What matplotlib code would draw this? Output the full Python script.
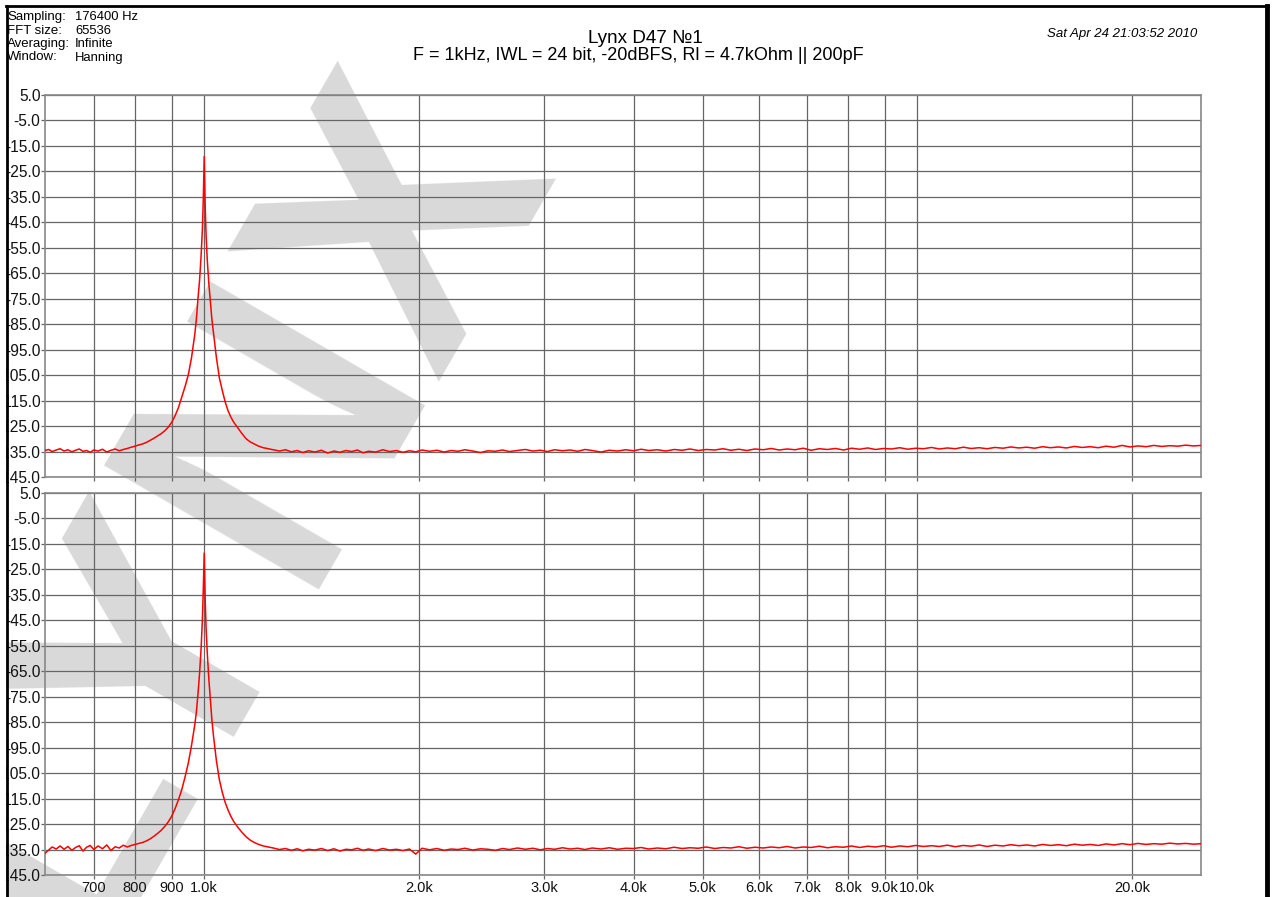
import matplotlib
matplotlib.use("Agg")
import matplotlib.pyplot as plt
from matplotlib.lines import Line2D
from matplotlib.patches import Rectangle
from matplotlib.ticker import NullLocator

plt.rcParams["font.family"] = ["Liberation Sans", "DejaVu Sans"]

# ---- data ----
freq_hz = [
    598, 605, 612, 620, 628, 636, 644, 652, 660, 668,
    676, 684, 692, 700, 710, 720, 730, 740, 750, 760,
    770, 780, 790, 800, 810, 820, 830, 840, 850, 860,
    870, 880, 890, 900, 910, 920, 930, 940, 950, 960,
    970, 975, 980, 985, 990, 994, 997, 1000, 1003, 1006,
    1010, 1015, 1020, 1025, 1030, 1040, 1050, 1060, 1070, 1080,
    1090, 1100, 1115, 1130, 1145, 1160, 1175, 1190, 1210, 1230,
    1250, 1275, 1300, 1325, 1350, 1375, 1400, 1430, 1460, 1490,
    1520, 1550, 1580, 1610, 1640, 1670, 1700, 1740, 1780, 1820,
    1860, 1900, 1940, 1980, 2020, 2070, 2120, 2170, 2220, 2270,
    2320, 2380, 2440, 2500, 2560, 2620, 2680, 2750, 2820, 2890,
    2960, 3030, 3100, 3180, 3260, 3340, 3420, 3500, 3600, 3700,
    3800, 3900, 4000, 4100, 4200, 4320, 4440, 4560, 4680, 4800,
    4930, 5060, 5200, 5340, 5480, 5620, 5770, 5920, 6080, 6240,
    6400, 6570, 6740, 6920, 7100, 7290, 7480, 7680, 7880, 8090,
    8300, 8520, 8740, 8970, 9200, 9450, 9700, 9950, 10200, 10470,
    10740, 11020, 11310, 11600, 11900, 12210, 12530, 12850, 13190, 13530,
    13880, 14240, 14610, 14990, 15380, 15780, 16190, 16610, 17040, 17480,
    17940, 18400, 18880, 19370, 19880, 20400, 20930, 21470, 22030, 22600,
    23190, 23790, 24410, 25000,
]

level_top_db = [
    -134.6, -134.2, -135.0, -134.4, -133.9, -134.8, -134.3, -135.1, -134.5, -134.0,
    -134.9, -134.6, -135.3, -134.4, -134.8, -134.1, -135.2, -134.5, -134.0, -134.7,
    -134.2, -133.8, -133.3, -132.9, -132.4, -132.0, -131.4, -130.6, -129.8, -128.9,
    -128.0, -126.9, -125.5, -123.6, -121.0, -117.8, -113.6, -109.5, -104.8, -98.0,
    -89.0, -83.0, -75.0, -68.0, -58.0, -48.0, -36.0, -19.2, -38.0, -50.0,
    -60.0, -69.0, -76.0, -83.0, -88.0, -98.0, -106.0, -111.0, -115.5, -119.0,
    -121.5, -123.5, -125.8, -128.0, -130.0, -131.2, -132.0, -132.8, -133.5, -133.9,
    -134.3, -134.8, -134.3, -135.1, -134.6, -135.4, -134.7, -135.2, -134.5, -135.6,
    -134.8, -135.3, -134.6, -135.0, -134.4, -135.5, -134.9, -135.2, -134.3, -135.0,
    -134.6, -135.3, -134.7, -135.1, -134.4, -134.9, -134.5, -135.2, -134.6, -134.9,
    -134.3, -134.8, -135.4, -134.7, -134.9, -134.4, -135.0, -134.6, -134.2, -134.8,
    -134.5, -135.0, -134.3, -134.7, -134.4, -134.9, -134.2, -134.6, -135.2, -134.5,
    -134.8, -134.3, -134.7, -134.1, -134.6, -134.3, -134.8, -134.2, -134.5, -134.0,
    -134.6, -134.2, -134.4, -133.9, -134.5, -134.1, -134.6, -134.0, -134.3, -133.8,
    -134.4, -134.0, -134.3, -133.7, -134.5, -133.9, -134.2, -133.8, -134.4, -133.7,
    -134.1, -133.6, -134.2, -133.8, -134.0, -133.5, -134.1, -133.7, -133.9, -133.4,
    -134.0, -133.6, -133.9, -133.3, -133.8, -133.5, -133.9, -133.4, -133.7, -133.2,
    -133.6, -133.3, -133.7, -133.1, -133.5, -133.2, -133.6, -133.0, -133.4, -133.1,
    -133.5, -132.9, -133.3, -132.6, -133.2, -132.8, -133.1, -132.6, -133.0, -132.7,
    -132.9, -132.5, -132.8, -132.6,
]

level_bot_db = [
    -136.5, -135.2, -134.0, -134.8, -133.6, -134.9, -133.8, -135.3, -134.2, -133.5,
    -135.6, -134.1, -133.4, -135.0, -133.6, -134.7, -133.2, -135.4, -133.9, -134.4,
    -133.3, -134.0, -133.4, -133.0, -132.6, -132.2, -131.6, -130.8, -129.8, -128.7,
    -127.5, -126.0, -124.2, -122.0, -119.0, -115.5, -111.5, -106.5, -101.0, -94.0,
    -86.0, -81.0, -74.0, -66.0, -56.0, -45.0, -33.0, -18.6, -36.0, -48.0,
    -58.0, -68.0, -76.0, -84.0, -90.0, -100.0, -107.5, -112.5, -116.5, -119.5,
    -122.0, -124.0, -126.3, -128.3, -130.0, -131.3, -132.2, -132.9, -133.6, -134.0,
    -134.4, -135.0, -134.6, -135.3, -134.7, -135.5, -134.9, -135.2, -134.6, -135.4,
    -134.7, -135.6, -134.9, -135.1, -134.5, -135.3, -134.8, -135.4, -134.6, -135.2,
    -134.9, -135.4, -134.8, -136.8, -134.5, -135.1, -134.6, -135.3, -134.8, -135.0,
    -134.5, -135.2, -134.7, -134.9, -135.3, -134.6, -135.0, -134.4, -134.9, -134.5,
    -135.1, -134.6, -134.9, -134.3, -134.8, -134.5, -135.0, -134.4, -134.8, -134.3,
    -134.9, -134.5, -134.6, -134.2, -134.8, -134.4, -134.7, -134.1, -134.6, -134.3,
    -134.5, -134.0, -134.6, -134.2, -134.4, -133.9, -134.5, -134.1, -134.4, -134.0,
    -134.3, -133.8, -134.4, -134.0, -134.2, -133.7, -134.3, -133.9, -134.1, -133.6,
    -134.2, -133.7, -134.0, -133.5, -134.1, -133.6, -133.9, -133.4, -133.8, -133.5,
    -133.8, -133.3, -133.9, -133.4, -133.7, -133.2, -133.8, -133.3, -133.6, -133.1,
    -133.5, -133.2, -133.6, -133.0, -133.4, -133.1, -133.5, -132.9, -133.3, -133.0,
    -133.4, -132.8, -133.2, -132.7, -133.1, -132.6, -133.0, -132.7, -132.9, -132.5,
    -132.8, -132.6, -132.9, -132.7,
]

x_ticks = [700, 800, 900, 1000, 2000, 3000, 4000, 5000, 6000, 7000, 8000, 9000, 10000, 20000]
x_labels = ["700", "800", "900", "1.0k", "2.0k", "3.0k", "4.0k", "5.0k", "6.0k",
            "7.0k", "8.0k", "9.0k", "10.0k", "20.0k"]
y_ticks = [5, -5, -15, -25, -35, -45, -55, -65, -75, -85, -95, -105, -115, -125, -135, -145]

header_keys = ["Sampling:", "FFT size:", "Averaging:", "Window:"]
header_vals = ["176400 Hz", "65536", "Infinite", "Hanning"]

W, H = 1276, 897
fig = plt.figure(figsize=(W / 100, H / 100), dpi=100)
fig.patch.set_facecolor("white")


def fx(x):
    return x / W


def fy(y):
    return 1 - y / H


# watermark behind everything
fig.text(fx(234), fy(510), "LYNX", fontsize=260, fontweight="bold", color="#d9d9d9",
         rotation=60, ha="center", va="center", zorder=-5)

grid_col = "#666666"
panels = [(95, 477, level_top_db, False), (493, 875, level_bot_db, True)]
for top_px, bot_px, levels, show_x in panels:
    ax = fig.add_axes([fx(45), fy(bot_px), fx(1201) - fx(45), (bot_px - top_px) / H])
    ax.set_facecolor("none")
    ax.plot(freq_hz, levels, color="#ff0000", lw=1.1, zorder=3)
    ax.set_xscale("log")
    ax.set_xlim(598, 25000)
    ax.set_ylim(-145, 5)
    ax.set_yticks(y_ticks)
    ax.set_yticklabels(["%.1f" % v for v in y_ticks])
    ax.set_xticks(x_ticks)
    ax.set_xticklabels(x_labels if show_x else [])
    ax.xaxis.set_minor_locator(NullLocator())
    ax.grid(True, color=grid_col, lw=0.9, zorder=1)
    ax.set_axisbelow(True)
    for s in ax.spines.values():
        s.set_color("#888888")
        s.set_linewidth(1.2)
    ax.tick_params(direction="out", length=3, width=0.9, color=grid_col,
                   labelcolor="#111111")
    ax.tick_params(axis="y", labelsize=11.2, pad=0.3)
    ax.tick_params(axis="x", labelsize=10.5, pad=1.5)

# header block
for i, (k, v) in enumerate(zip(header_keys, header_vals)):
    yy = 17 + i * 13.5
    fig.text(fx(7), fy(yy), k, fontsize=9.5, va="center", ha="left")
    fig.text(fx(75), fy(yy), v, fontsize=9.4, va="center", ha="left")

fig.text(fx(645), fy(38), "Lynx D47 №1", fontsize=13.6, ha="center", va="center")
fig.text(fx(638), fy(56), "F = 1kHz, IWL = 24 bit, -20dBFS, Rl = 4.7kOhm || 200pF",
         fontsize=13.0, ha="center", va="center")
fig.text(fx(1197), fy(34), "Sat Apr 24 21:03:52 2010", fontsize=9.5, style="italic",
         ha="right", va="center")

# page frame: clip strip on the left plus black border
fig.add_artist(Rectangle((0, 0), fx(6), 1, transform=fig.transFigure,
                         facecolor="white", edgecolor="none", zorder=20))
fig.add_artist(Line2D([fx(7), fx(7)], [0, fy(6)], color="black", lw=2, zorder=21))
fig.add_artist(Line2D([fx(6), fx(1268)], [fy(6), fy(6)], color="black", lw=2, zorder=21))
fig.add_artist(Line2D([fx(1267), fx(1267)], [0, fy(6)], color="black", lw=3.5, zorder=21))

fig.savefig("out.png", dpi=100)
